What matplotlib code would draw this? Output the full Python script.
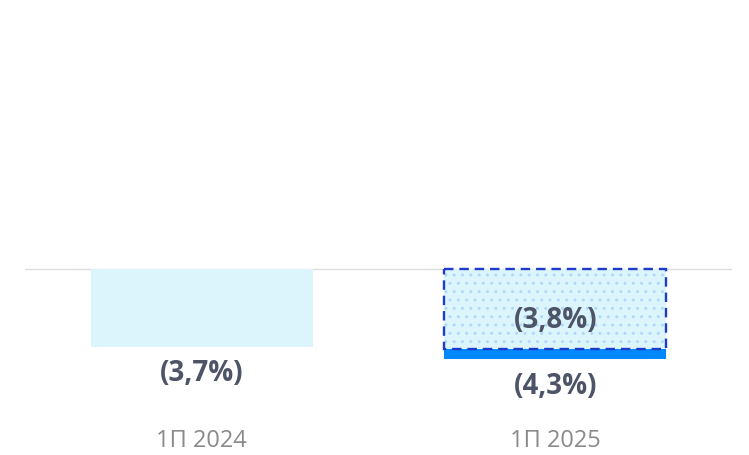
import matplotlib
matplotlib.use('Agg')
import matplotlib.pyplot as plt

categories = ['1П 2024', '1П 2025']
actual = [-3.7, -4.3]          # solid bars
adjusted = [None, -3.8]        # dotted overlay with dashed border
actual_labels = ['(3,7%)', '(4,3%)']
adjusted_labels = [None, '(3,8%)']

plt.rcParams['font.family'] = ['Open Sans', 'DejaVu Sans']
plt.rcParams['hatch.linewidth'] = 1.0

fig = plt.figure(figsize=(7.49, 4.56), dpi=100)
ax = fig.add_axes([25 / 749, 46 / 456, 707 / 749, 390 / 456])

x = list(range(len(categories)))
width = 0.627
colors = ['#dcf5fc', '#0088ff']

for i, v in enumerate(actual):
    ax.bar(x[i], v, width=width, color=colors[i], linewidth=0, zorder=2)

for i, v in enumerate(adjusted):
    if v is None:
        continue
    # dotted fill
    ax.bar(x[i], v, width=width, color='#dcf5fc', edgecolor='#b0d8fa',
           hatch='..', linewidth=0, zorder=3)
    # dashed outline
    ax.bar(x[i], v, width=width, fill=False, edgecolor='#1d3cc9',
           linewidth=1.7, linestyle=(0, (4, 2.5)), zorder=4)

txt_color = '#4d5468'
for i, v in enumerate(actual):
    ax.text(x[i], v - 0.55, actual_labels[i], ha='center', va='top',
            fontsize=20, fontweight='bold', color=txt_color, zorder=5)
for i, v in enumerate(adjusted):
    if v is None:
        continue
    ax.text(x[i], v * 0.64, adjusted_labels[i], ha='center', va='center',
            fontsize=20, fontweight='bold', color=txt_color, zorder=5)

ax.axhline(0, color='#dddddd', linewidth=1, zorder=1)

ax.set_xlim(-0.5, 1.5)
ax.set_ylim(-6.67, 11.9)
ax.set_xticks(x)
ax.set_xticklabels(categories, fontsize=17, color='#8a8a8a')
ax.tick_params(axis='x', length=0, pad=14)
ax.set_yticks([])
for s in ax.spines.values():
    s.set_visible(False)

fig.savefig('out.png', dpi=100)
